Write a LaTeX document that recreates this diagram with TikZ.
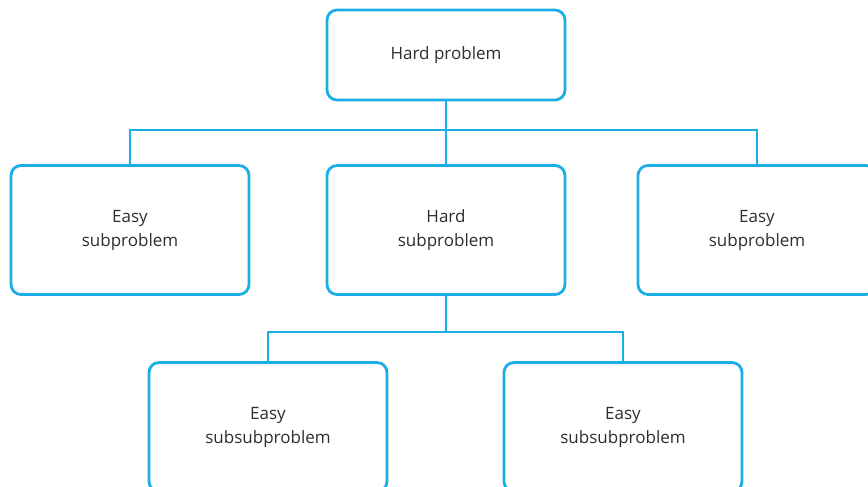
\documentclass[tikz,border=0pt]{standalone}
\usepackage{fontspec}
\setmainfont{Open Sans}
\begin{document}
\begin{tikzpicture}[x=1pt,y=-1pt,
  box/.style={draw=boxblue,line width=2.8pt,rounded corners=10pt,fill=white,
    minimum width=238pt,minimum height=90pt,inner sep=0pt,align=center,
    font=\fontsize{17}{24}\selectfont,text=textgray},
  tall/.style={box,minimum height=129pt},
  link/.style={draw=boxblue,line width=1.1pt}]
\definecolor{boxblue}{HTML}{1AAEE6}
\definecolor{textgray}{HTML}{2E2E2E}
\useasboundingbox (0,0) rectangle (868,487);
% junction points of the tree
\coordinate (j1) at (446,130);
\coordinate (j2) at (446,332);
\node[box] (top) at (446,55) {Hard problem};
\node[tall] (l) at (130,230) {Easy\\subproblem};
\node[tall] (m) at (446,230) {Hard\\subproblem};
\node[tall] (r) at (757,230) {Easy\\subproblem};
\node[tall] (bl) at (268,427) {Easy\\subsubproblem};
\node[tall] (br) at (623,427) {Easy\\subsubproblem};
\draw[link] (top.south) -- (j1);
\draw[link] (l.north) |- (j1) -| (r.north);
\draw[link] (j1) -- (m.north);
\draw[link] (m.south) -- (j2);
\draw[link] (bl.north) |- (j2) -| (br.north);
\end{tikzpicture}
\end{document}
